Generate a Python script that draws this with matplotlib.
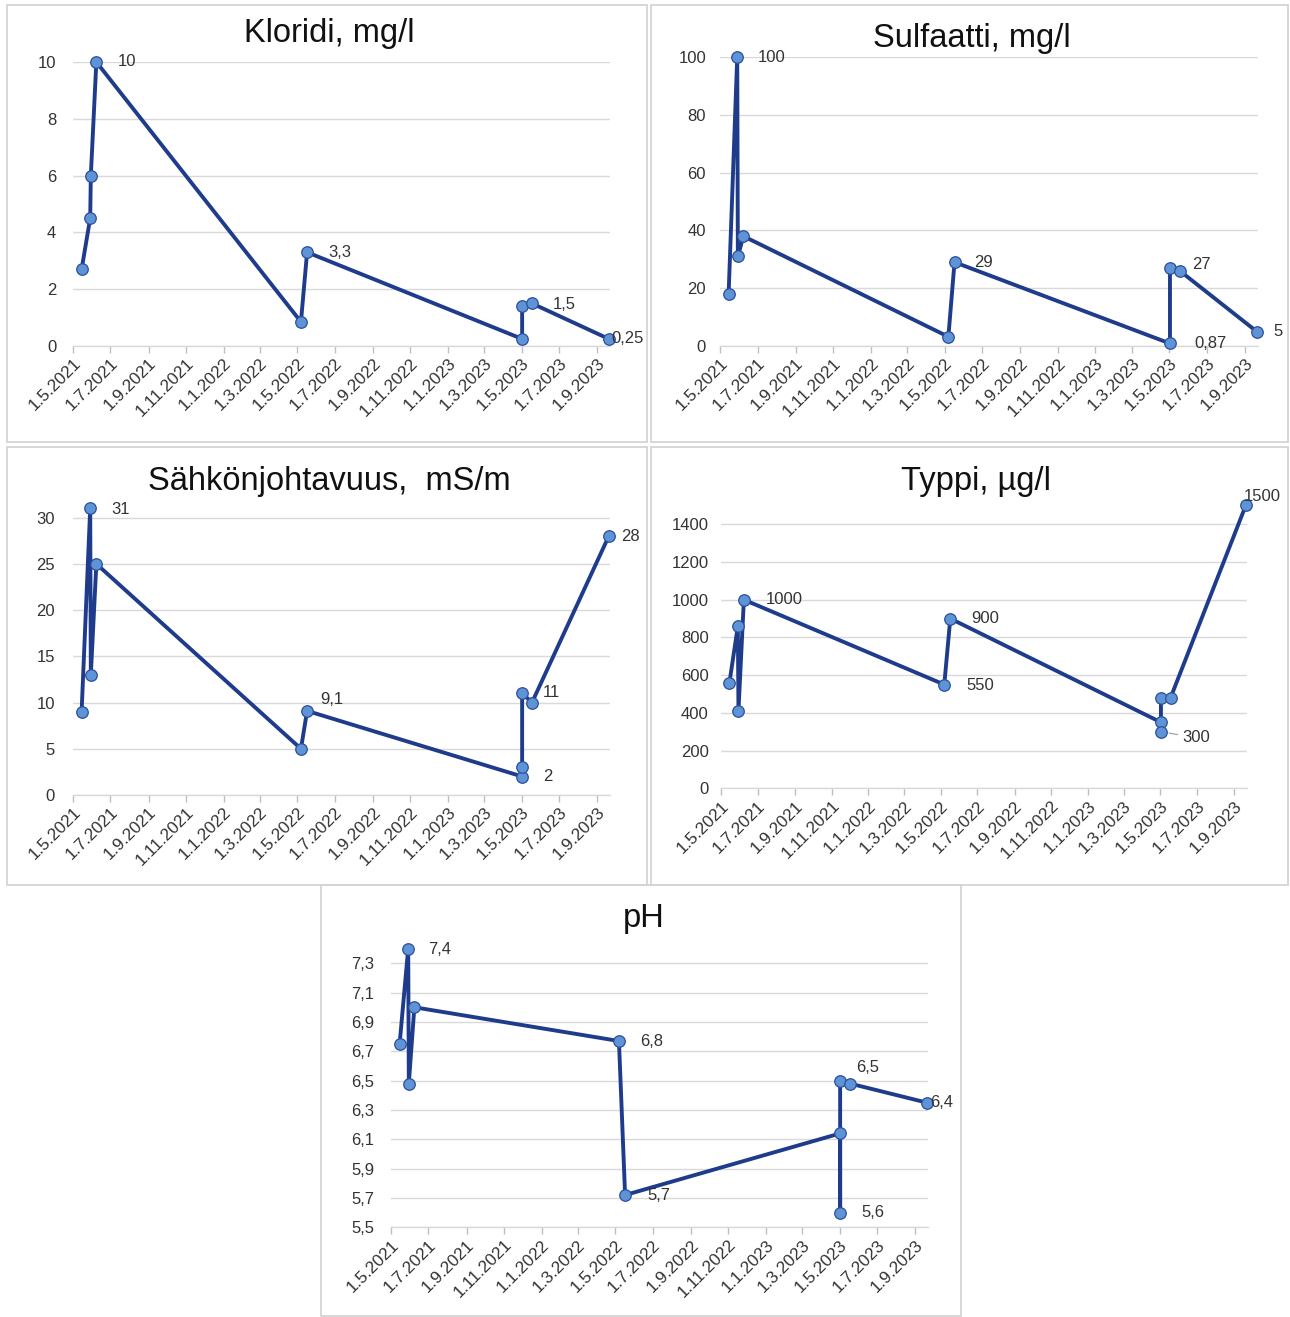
import matplotlib
matplotlib.use('Agg')
import matplotlib.pyplot as plt
import matplotlib.dates as mdates
from matplotlib.patches import Rectangle
from matplotlib.ticker import FixedLocator, FuncFormatter
import numpy as np
import datetime as dt

plt.rcParams['font.family'] = ['Liberation Sans', 'DejaVu Sans']

# ---------------- data ----------------
dates_a = ['2021-05-15', '2021-05-29', '2021-05-30', '2021-06-08',
           '2022-05-07', '2022-05-17',
           '2023-05-02', '2023-05-02', '2023-05-18', '2023-09-20']
dates_b = ['2021-05-15', '2021-05-29', '2021-05-30', '2021-06-08',
           '2022-05-07', '2022-05-17',
           '2023-05-02', '2023-05-02', '2023-05-02', '2023-05-18', '2023-09-20']

kloridi = [2.7, 4.5, 6, 10, 0.85, 3.3, 0.25, 1.4, 1.5, 0.25]
sulfaatti = [18, 100, 31, 38, 3.2, 29, 0.87, 27, 26, 5]
sahko = [9, 31, 13, 25, 5, 9.1, 2, 3, 11, 10, 28]
typpi = [560, 860, 410, 1000, 550, 900, 350, 300, 480, 480, 1500]
ph = [6.75, 7.4, 6.48, 7.0, 6.77, 5.72, 6.14, 5.6, 6.5, 6.48, 6.35]

titles = ['Kloridi, mg/l', 'Sulfaatti, mg/l', 'Sähkönjohtavuus,  mS/m', 'Typpi, µg/l', 'pH']

kloridi_ticks = [0, 2, 4, 6, 8, 10]
sulfaatti_ticks = [0, 20, 40, 60, 80, 100]
sahko_ticks = [0, 5, 10, 15, 20, 25, 30]
typpi_ticks = [0, 200, 400, 600, 800, 1000, 1200, 1400]
ph_ticks = [5.5, 5.7, 5.9, 6.1, 6.3, 6.5, 6.7, 6.9, 7.1, 7.3]

# ---------------- style ----------------
W, H = 1290, 1317
LINE = '#1F3C8C'
FILL = '#5E93D6'
EDGE = '#2B4E9E'
GRID = '#D9D9D9'
TXT = '#333333'
PX = 0.72  # points per pixel at dpi 100

fig = plt.figure(figsize=(W / 100, H / 100), dpi=100)
fig.patch.set_facecolor('white')

# panel frames
for (x0, y0, x1, y1) in [(7, 5, 647, 442), (651, 5, 1288, 442), (7, 447, 647, 885),
                         (651, 447, 1288, 885), (321, 885, 961, 1316)]:
    fig.add_artist(Rectangle((x0 / W, 1 - y1 / H), (x1 - x0) / W, (y1 - y0) / H,
                             transform=fig.transFigure, fill=False,
                             ec='#D4D4D4', lw=1.3))


def to_dates(lst):
    return [dt.datetime.strptime(s, '%Y-%m-%d') for s in lst]


def fmt_general(v):
    return ('%g' % v).replace('.', ',')


def fmt_one(v):
    return ('%.1f' % (round(v + 1e-9, 1))).replace('.', ',')


def panel(box, dates, values, yticks, ylim, ypad, title, title_xy, labels,
          fmt, tickfmt):
    left, right, top, bottom = box
    ax = fig.add_axes([left / W, 1 - bottom / H, (right - left) / W, (bottom - top) / H])
    d = to_dates(dates)
    ax.plot(d, values, color=LINE, lw=2.8, zorder=3, clip_on=False,
            solid_joinstyle='round')
    ax.plot(d, values, ls='none', marker='o', ms=8.3, mfc=FILL, mec=EDGE,
            mew=0.9, zorder=4, clip_on=False)
    ax.set_xlim(dt.datetime(2021, 5, 1), dt.datetime(2023, 9, 22))
    ax.set_ylim(*ylim)
    ax.xaxis.set_major_locator(mdates.MonthLocator(bymonth=[1, 3, 5, 7, 9, 11]))
    ax.xaxis.set_major_formatter(FuncFormatter(
        lambda x, p: (lambda q: f'{q.day}.{q.month}.{q.year}')(mdates.num2date(x))))
    ax.yaxis.set_major_locator(FixedLocator(yticks))
    ax.yaxis.set_major_formatter(FuncFormatter(lambda v, p: tickfmt(v)))
    for s in ['top', 'right', 'left']:
        ax.spines[s].set_visible(False)
    ax.spines['bottom'].set_color(GRID)
    ax.spines['bottom'].set_linewidth(1.0)
    ax.grid(axis='y', color=GRID, lw=1.0, zorder=0)
    ax.set_axisbelow(True)
    ax.tick_params(axis='y', length=0, pad=ypad, labelsize=12, labelcolor=TXT)
    ax.tick_params(axis='x', length=5, width=1, color='#BFBFBF', pad=2,
                   labelsize=12.3, labelcolor=TXT)
    for lab in ax.get_xticklabels():
        lab.set_rotation(45)
        lab.set_ha('right')
        lab.set_va('top')
        lab.set_rotation_mode('anchor')
    ax.set_facecolor('none')
    for idx, (dx, dy, leader) in labels.items():
        kw = {}
        if leader:
            kw['arrowprops'] = dict(arrowstyle='-', color='#A6A6A6', lw=0.9,
                                    shrinkA=1, shrinkB=6)
        ax.annotate(fmt(values[idx]), (d[idx], values[idx]),
                    xytext=(dx * PX, -dy * PX), textcoords='offset points',
                    ha='left', va='center', fontsize=12, color=TXT,
                    zorder=5, annotation_clip=False, **kw)
    fig.text(title_xy[0] / W, 1 - title_xy[1] / H, title, ha='center',
             va='baseline', fontsize=23.5, color='#111111')
    return ax


panel((73, 610, 62, 346), dates_a, kloridi, kloridi_ticks, (0, 10), 12,
      titles[0], (329, 42),
      {3: (21, 0, False), 5: (21, 0, False), 8: (21, 1, False), 9: (3, 0, False)},
      fmt_general, fmt_general)

panel((720, 1258, 57, 346), dates_a, sulfaatti, sulfaatti_ticks, (0, 100), 10,
      titles[1], (972, 47),
      {1: (21, 0, False), 5: (20, 0, False), 6: (24, 0, False),
       7: (22, -3, False), 9: (17, 0, False)},
      fmt_general, fmt_general)

panel((73, 610, 503.8, 795), dates_b, sahko, sahko_ticks, (0, 31.5), 13,
      titles[2], (329, 490),
      {1: (21, 1, False), 5: (13, -11, False), 6: (21, 0, False),
       8: (21, -1, False), 10: (12, 0, False)},
      fmt_general, fmt_general)

panel((721, 1247, 505.4, 788.3), dates_b, typpi, typpi_ticks, (0, 1500), 9,
      titles[3], (976, 490),
      {3: (22, 0, False), 4: (22, 1, False), 5: (21, 0, False),
       7: (21, 6, True), 10: (-2, -9, False)},
      fmt_general, fmt_general)

panel((391, 928, 948.6, 1227.3), dates_b, ph, ph_ticks, (5.5, 7.4), 12,
      titles[4], (644, 927),
      {1: (20, 1, False), 4: (21, 0, False), 5: (22, 0, False),
       7: (21, 0, False), 8: (16, -13, False), 10: (3, 0, False)},
      fmt_one, fmt_general)

fig.savefig('out.png', dpi=100, facecolor='white')
